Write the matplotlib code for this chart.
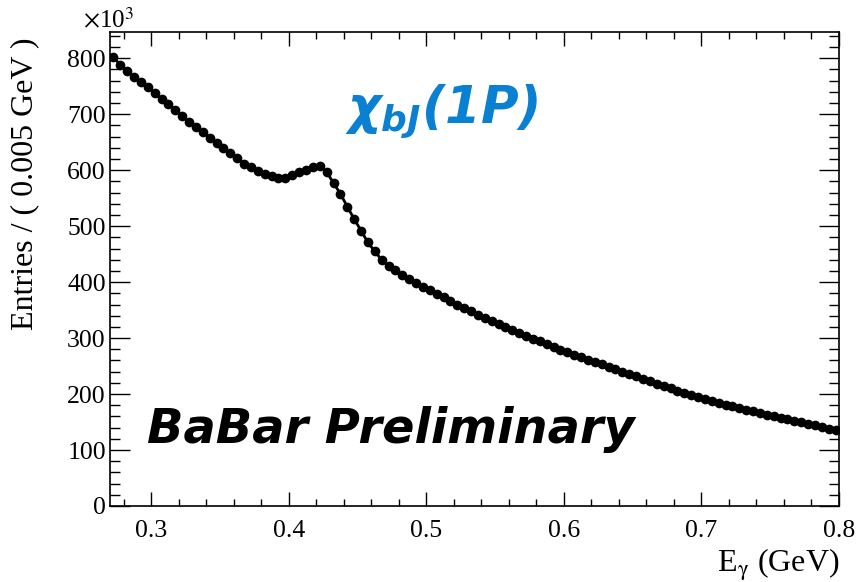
import matplotlib
matplotlib.use("Agg")
import matplotlib.pyplot as plt
from matplotlib.ticker import MultipleLocator
import numpy as np

# Photon energy spectrum, 0.005 GeV bins starting at 0.27 GeV
bin_width = 0.005
x_start = 0.27
entries_k = [
    802, 788, 778, 767, 757, 748, 738, 727, 718, 708,
    697, 687, 677, 668, 658, 648, 639, 630, 621, 612,
    605, 599, 594, 589, 586, 587, 591, 596, 601, 606,
    607, 597, 577, 558, 535, 513, 492, 471, 455, 440,
    429, 421, 413, 406, 399, 392, 386, 379, 373, 366,
    360, 354, 348, 342, 336, 330, 325, 320, 314, 309,
    304, 299, 294, 289, 284, 279, 275, 270, 266, 261,
    257, 253, 248, 244, 240, 236, 232, 227, 223, 218,
    214, 210, 206, 202, 198, 194, 191, 188, 184, 181,
    178, 175, 172, 169, 166, 163, 160, 157, 155, 152,
    150, 147, 145, 141, 138, 135,
]
x_ticks = [0.3, 0.4, 0.5, 0.6, 0.7, 0.8]
y_ticks = [0, 100, 200, 300, 400, 500, 600, 700, 800]

x_centers = x_start + bin_width * (np.arange(len(entries_k)) + 0.5)

plt.rcParams["font.family"] = ["Liberation Serif", "DejaVu Serif"]
plt.rcParams["mathtext.fontset"] = "stix"
plt.rcParams["mathtext.it"] = "DejaVu Sans:italic:bold"
plt.rcParams["mathtext.rm"] = "DejaVu Sans:bold"
plt.rcParams["mathtext.bf"] = "DejaVu Sans:bold"

W, H = 856, 582
fig = plt.figure(figsize=(W / 100, H / 100), dpi=100)
ax = fig.add_axes([110 / W, 1 - 506 / H, 729 / W, 474 / H])

ax.plot(x_centers, entries_k, color="black", lw=2.0, marker="o",
        markersize=7.0, markeredgewidth=0, zorder=3)

ax.set_xlim(0.27, 0.8)
ax.set_ylim(0, 847)
ax.set_xticks(x_ticks)
ax.set_yticks(y_ticks)
ax.xaxis.set_minor_locator(MultipleLocator(0.02))
ax.yaxis.set_minor_locator(MultipleLocator(20))
ax.set_xticklabels([f"{v:.1f}" for v in x_ticks])
ax.set_yticklabels([str(v) for v in y_ticks])

ax.tick_params(axis="x", which="major", direction="in", length=10, width=1.0,
               top=True, labelsize=18.5, pad=10)
ax.tick_params(axis="x", which="minor", direction="in", length=5, width=1.0, top=True)
ax.tick_params(axis="y", which="major", direction="in", length=14.4, width=1.0,
               right=True, labelsize=18.5, pad=3)
ax.tick_params(axis="y", which="minor", direction="in", length=7.2, width=1.0, right=True)
for s in ax.spines.values():
    s.set_linewidth(1.2)

# axis titles
fig.text(25 / W, 1 - 38 / H, "Entries / ( 0.005 GeV )", rotation=90,
         ha="center", va="top", fontsize=23)
fig.text(839 / W, 1 - 565 / H, r"E$_{\mathrm{\gamma}}$ (GeV)",
         ha="right", va="center", fontsize=23)
fig.text(83 / W, 1 - 28 / H, r"$\times$10$^{3}$", ha="left", va="baseline",
         fontsize=18)

# annotations
ax.text(0.0508, 0.133, "BaBar Preliminary", transform=ax.transAxes,
        family="DejaVu Sans", fontweight="bold", style="italic", fontsize=34.5,
        ha="left", va="baseline", color="black")
ax.text(0.322, 0.808, r"$\chi_{bJ}$(1P)", transform=ax.transAxes,
        family="DejaVu Sans", fontweight="bold", style="italic", fontsize=37,
        math_fontfamily="custom", ha="left", va="baseline", color="#0a80d2")

fig.savefig("out.png", dpi=100)
